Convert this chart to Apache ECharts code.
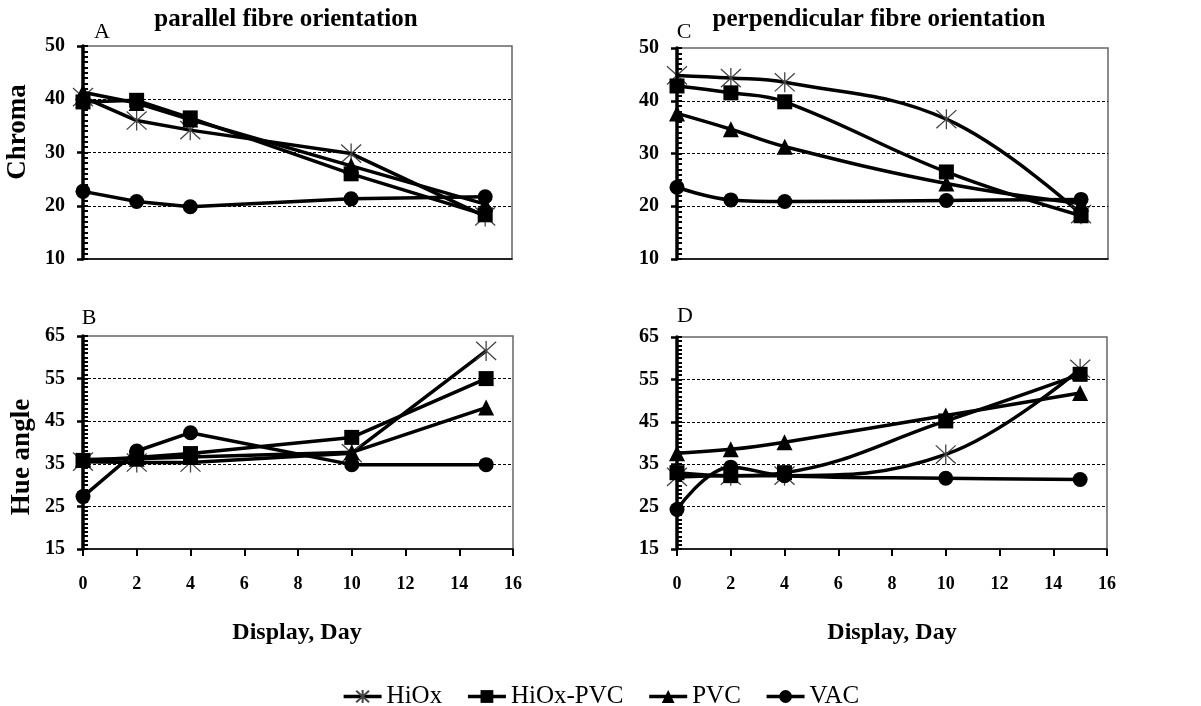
<!DOCTYPE html>
<html>
<head>
<meta charset="utf-8">
<script src="https://cdn.jsdelivr.net/npm/echarts@6/dist/echarts.min.js"></script>
<style>
html,body{margin:0;padding:0;background:#fff;}
#c{width:1201px;height:706px;}
</style>
</head>
<body>
<div id="c"></div>
<script>
// ---- data ----
const days = [0, 2, 4, 10, 15];
const seriesNames = ['HiOx', 'HiOx-PVC', 'PVC', 'VAC'];
const chromaTicks = [10, 20, 30, 40, 50];
const hueTicks = [15, 25, 35, 45, 55, 65];
const dayTicks = [0, 2, 4, 6, 8, 10, 12, 14, 16];

// A: Chroma, parallel fibre orientation
const A_HiOx    = [40.4, 36.0, 34.2, 29.8, 18.0];
const A_HiOxPVC = [39.5, 39.8, 36.5, 26.0, 18.3];
const A_PVC     = [41.3, 39.3, 36.2, 27.5, 20.3];
const A_VAC     = [22.7, 20.8, 19.8, 21.3, 21.7];
// B: Hue angle, parallel
const B_HiOx    = [35.5, 35.3, 35.3, 37.5, 61.5];
const B_HiOxPVC = [35.8, 36.5, 37.4, 41.2, 55.0];
const B_PVC     = [36.0, 36.2, 36.6, 37.7, 48.2];
const B_VAC     = [27.3, 38.0, 42.3, 34.8, 34.8];
// C: Chroma, perpendicular
const C_HiOx    = [44.8, 44.3, 43.5, 36.5, 18.5];
const C_HiOxPVC = [42.8, 41.5, 39.8, 26.5, 18.2];
const C_PVC     = [37.6, 34.6, 31.3, 24.3, 20.5];
const C_VAC     = [23.6, 21.2, 20.9, 21.1, 21.3];
// D: Hue angle, perpendicular
const D_HiOx    = [32.0, 32.3, 32.3, 37.3, 57.5];
const D_HiOxPVC = [33.0, 32.3, 33.0, 45.2, 56.2];
const D_PVC     = [37.6, 38.5, 40.2, 46.5, 51.8];
const D_VAC     = [24.3, 34.3, 32.3, 31.7, 31.4];

// ---- build ----
const SERIF = "'Liberation Serif','DejaVu Serif',serif";
const asterisk = 'path://M0,0L20,20M20,0L0,20M10,-1L10,21';
const symbols = [asterisk, 'rect', 'triangle', 'circle'];
const symSizes = [20, 15, 16, 15];

const grids = [
  {left: 83, top: 46, width: 429, height: 213},   // A
  {left: 83, top: 336, width: 430, height: 213},  // B
  {left: 677, top: 48, width: 431, height: 211},  // C
  {left: 677, top: 337, width: 430, height: 212}  // D
].map(g => Object.assign({show: true, borderColor: '#666', borderWidth: 1.5, backgroundColor: '#fff'}, g));

function xAxis(i, labels) {
  return {
    type: 'value', gridIndex: i, position: 'bottom',
    min: dayTicks[0], max: dayTicks[dayTicks.length - 1], interval: 2,
    axisLine: {show: true, onZero: false, lineStyle: {color: '#000', width: 1.5}},
    axisTick: {show: labels, length: 7, lineStyle: {color: '#000', width: 2}},
    axisLabel: {show: labels, margin: 26, fontFamily: SERIF, fontWeight: 'bold', fontSize: 18, color: '#000'},
    splitLine: {show: false}
  };
}
function yAxis(i, ticks) {
  const n = ticks.length;
  const cols = ticks.map((t, k) => (k === 0 || k === n - 1) ? 'rgba(0,0,0,0)' : '#000');
  return {
    type: 'value', gridIndex: i, position: 'left',
    min: ticks[0], max: ticks[n - 1], interval: ticks[1] - ticks[0],
    axisLine: {show: true, onZero: false, lineStyle: {color: '#000', width: 3.5}},
    axisTick: {show: true, length: 6, lineStyle: {color: '#000', width: 2.5}},
    axisLabel: {margin: 18, fontFamily: SERIF, fontWeight: 'bold', fontSize: 20, color: '#000'},
    splitLine: {show: true, lineStyle: {type: [3, 2], color: cols, width: 1.2}},
    z: 5
  };
}
// minor ticks (every unit, on the inner side of the axis)
function yMinor(i, ticks) {
  return {
    type: 'value', gridIndex: i, position: 'left', offset: 0,
    min: ticks[0], max: ticks[ticks.length - 1], interval: 1,
    axisLine: {show: false, onZero: false},
    axisTick: {show: true, inside: true, length: 5, lineStyle: {color: '#000', width: 2}},
    axisLabel: {show: false}, splitLine: {show: false}, z: 4
  };
}

const panelData = [
  [A_HiOx, A_HiOxPVC, A_PVC, A_VAC],
  [B_HiOx, B_HiOxPVC, B_PVC, B_VAC],
  [C_HiOx, C_HiOxPVC, C_PVC, C_VAC],
  [D_HiOx, D_HiOxPVC, D_PVC, D_VAC]
];
const smoothFlags = [false, false, 0.4, 0.4];

const series = [];
panelData.forEach((arrs, gi) => {
  arrs.forEach((vals, si) => {
    series.push({
      type: 'line', name: seriesNames[si], xAxisIndex: gi, yAxisIndex: gi,
      data: days.map((d, k) => [d, vals[k]]),
      symbol: symbols[si], symbolSize: symSizes[si], smooth: smoothFlags[gi],
      lineStyle: {color: '#000', width: 3.5},
      itemStyle: si === 0 ? {color: '#000', borderColor: '#444', borderWidth: 1.3} : {color: '#000'},
      emphasis: {disabled: true}, animation: false, z: 3 + si
    });
  });
});

function txt(x, y, s, size, bold, rot) {
  return {
    type: 'text', x: x, y: y, rotation: rot || 0,
    style: {text: s, fontFamily: SERIF, fontSize: size, fontWeight: bold ? 'bold' : 'normal',
            fill: '#000', align: 'center', verticalAlign: 'middle'}
  };
}

const option = {
  backgroundColor: '#fff',
  animation: false,
  grid: grids,
  xAxis: [xAxis(0, false), xAxis(1, true), xAxis(2, false), xAxis(3, true)],
  yAxis: [yAxis(0, chromaTicks), yAxis(1, hueTicks), yAxis(2, chromaTicks), yAxis(3, hueTicks),
          yMinor(0, chromaTicks), yMinor(1, hueTicks), yMinor(2, chromaTicks), yMinor(3, hueTicks)],
  legend: {
    data: seriesNames, left: 'center', top: 679, itemWidth: 38, itemHeight: 16, itemGap: 24,
    lineStyle: {width: 3.5},
    textStyle: {fontFamily: SERIF, fontSize: 25, color: '#000'}
  },
  graphic: [
    txt(286, 20, 'parallel fibre orientation', 25, true),
    txt(879, 20, 'perpendicular fibre orientation', 25, true),
    txt(102, 32, 'A', 22, false),
    txt(89, 318, 'B', 22, false),
    txt(684, 32, 'C', 22, false),
    txt(685, 316, 'D', 22, false),
    txt(18, 132, 'Chroma', 27, true, Math.PI / 2),
    txt(22, 457, 'Hue angle', 27, true, Math.PI / 2),
    txt(297, 633, 'Display, Day', 24, true),
    txt(892, 633, 'Display, Day', 24, true)
  ],
  series: series
};
const chart = echarts.init(document.getElementById('c'), null, {renderer: 'canvas'});
chart.setOption(option);
</script>
</body>
</html>
